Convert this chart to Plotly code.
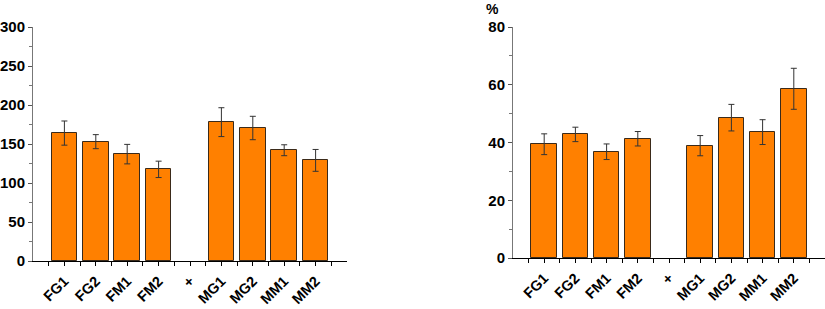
import plotly.graph_objects as go

categories = ["FG1", "FG2", "FM1", "FM2", "+", "MG1", "MG2", "MM1", "MM2"]
left_values = [164, 153, 137, 117.5, None, 178, 170.5, 142, 129]
left_errors = [15.5, 9, 12.5, 10.5, None, 18.5, 15, 7, 14]
right_values = [39.4, 42.8, 36.8, 41.3, None, 38.9, 48.6, 43.6, 58.6]
right_errors = [3.6, 2.5, 2.7, 2.5, None, 3.5, 4.6, 4.3, 7.1]
left_ticks = [0, 50, 100, 150, 200, 250, 300]
right_ticks = [0, 20, 40, 60, 80]
right_unit = "%"

W, H = 825, 309
xs = list(range(len(categories)))
BAR = "#FF8000"
EDGE = "#3a2a1a"
FONT = "Liberation Sans, Arial, sans-serif"

fig = go.Figure()
for vals, errs, xa, ya in [(left_values, left_errors, "x", "y"),
                           (right_values, right_errors, "x2", "y2")]:
    fig.add_trace(go.Bar(
        x=xs, y=vals, width=0.82, xaxis=xa, yaxis=ya,
        marker=dict(color=BAR, line=dict(color=EDGE, width=1)),
        error_y=dict(type="data", array=errs, visible=True,
                     color="#333333", thickness=1, width=3),
        showlegend=False,
    ))

def xaxis(domain, anchor):
    return dict(
        domain=domain, anchor=anchor, range=[-1, 9], automargin=False,
        tickvals=xs, ticktext=categories, tickangle=-45,
        showline=True, linecolor="black", linewidth=1,
        ticks="outside", ticklen=4, tickcolor="black",
        minor=dict(ticks="outside", ticklen=4, tickcolor="black",
                   tick0=-0.5, dtick=1),
        showgrid=False, zeroline=False, ticklabelstandoff=1,
        tickfont=dict(family=FONT, size=14.5, color="black", weight="bold"),
    )

def yaxis(domain, anchor, rng, ticks, dt):
    return dict(
        domain=domain, anchor=anchor, range=rng, automargin=False,
        tickvals=ticks, showline=True, linecolor="#777777", linewidth=1,
        ticks="outside", ticklen=4, tickcolor="#555555",
        minor=dict(ticks="outside", ticklen=3, tickcolor="#777777", dtick=dt),
        showgrid=False, zeroline=False,
        tickfont=dict(family=FONT, size=15, color="black", weight="bold"),
    )

fig.update_layout(
    width=W, height=H,
    margin=dict(l=0, r=0, t=0, b=0),
    plot_bgcolor="white", paper_bgcolor="white",
    bargap=0,
    xaxis=xaxis([33 / W, 347 / W], "y"),
    yaxis=yaxis([(H - 261) / H, (H - 27) / H], "x", [0, 300], left_ticks, 25),
    xaxis2=xaxis([513 / W, 1.0], "y2"),
    yaxis2=yaxis([(H - 258) / H, (H - 27) / H], "x2", [0, 80], right_ticks, 10),
    annotations=[dict(text="<b>" + right_unit + "</b>", xref="paper", yref="paper",
                      x=493 / W, y=(H - 9) / H, showarrow=False,
                      xanchor="center", yanchor="middle",
                      font=dict(family=FONT, size=14, color="black"))],
)

fig.write_html("out.html", config={"displayModeBar": False},
               post_script="document.body.style.margin='0';")
